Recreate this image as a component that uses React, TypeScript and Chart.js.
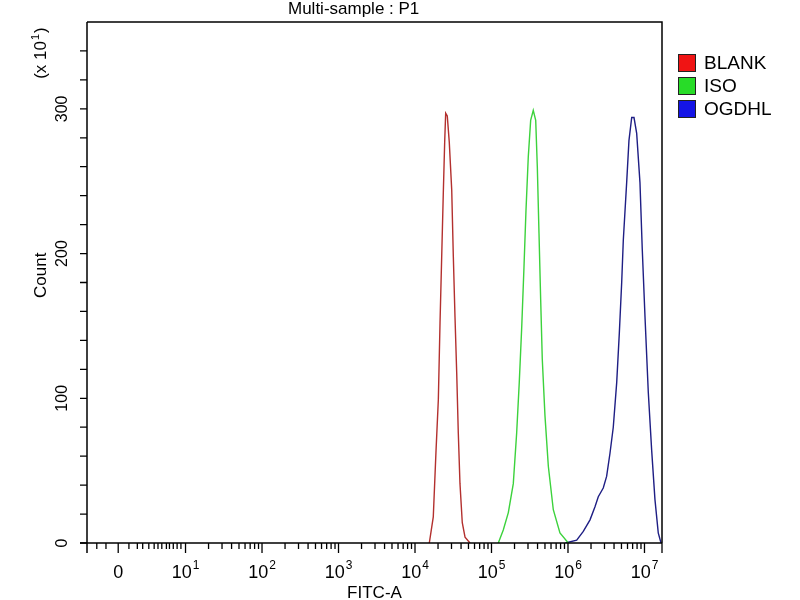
import React, { useEffect, useRef } from "react";
import { Chart, registerables } from "chart.js";

Chart.register(...registerables);

// ---- data -----------------------------------------------------------------
const chartTitle = "Multi-sample : P1";
const xAxisTitle = "FITC-A";
const yAxisTitle = "Count";
const yAxisMultiplierBase = "(x 10";
const yAxisMultiplierExp = "1";

const seriesLabels = ["BLANK", "ISO", "OGDHL"];
const lineColors = ["#b3302e", "#3cd23c", "#1e1e84"];
const legendColors = ["#f01414", "#28dc28", "#1414e6"];

// x values are positions on the log display axis (decades of FITC-A)
const blankX = [4.187, 4.239, 4.275, 4.305, 4.327, 4.349, 4.37, 4.388, 4.401, 4.422, 4.448, 4.48, 4.501, 4.523, 4.545, 4.566, 4.588, 4.618, 4.654, 4.719];
const blankCount = [0, 18, 64, 99, 152, 198, 242, 277, 297, 295, 277, 244, 198, 156, 118, 76, 41, 14, 4, 0];

const isoX = [5.089, 5.154, 5.22, 5.285, 5.329, 5.363, 5.395, 5.425, 5.451, 5.481, 5.512, 5.546, 5.578, 5.599, 5.621, 5.643, 5.664, 5.699, 5.743, 5.808, 5.895, 6.004];
const isoCount = [0, 9, 21, 41, 76, 111, 149, 191, 230, 267, 292, 299, 292, 260, 214, 168, 127, 88, 53, 23, 7, 0];

const ogdhlX = [5.967, 6.114, 6.2, 6.288, 6.353, 6.396, 6.461, 6.505, 6.549, 6.592, 6.637, 6.671, 6.702, 6.723, 6.767, 6.797, 6.833, 6.863, 6.898, 6.941, 6.971, 7.007, 7.05, 7.094, 7.137, 7.18, 7.216];
const ogdhlCount = [0, 2, 8, 16, 25, 32, 38, 46, 62, 80, 111, 145, 180, 209, 249, 278, 294, 294, 283, 249, 203, 156, 104, 64, 30, 7, 0];

const xMin = -0.288;
const xMax = 7.229;
const yMin = 0;
const yMax = 360;

const yTickValues = [0, 20, 40, 60, 80, 100, 120, 140, 160, 180, 200, 220, 240, 260, 280, 300, 320, 340];
const yTickLabels = [0, 100, 200, 300];

const xMajorPositions = [0.12, 1, 2, 3, 4, 5, 6, 7];
const xMajorBase = ["0", "10", "10", "10", "10", "10", "10", "10"];
const xMajorExp = ["", "1", "2", "3", "4", "5", "6", "7"];
const xLinearRegionMinor = [-0.16, -0.04, 0.26, 0.37, 0.44, 0.52, 0.59, 0.64, 0.69, 0.75, 0.79, 0.84, 0.89, 0.94];
const logMinorMultipliers = [2, 3, 4, 5, 6, 7, 8, 9];
const logDecades = [1, 2, 3, 4, 5, 6];

const FONT = "'Liberation Sans', Arial, sans-serif";

const toPoints = (xs: number[], ys: number[]) => xs.map((x, i) => ({ x, y: ys[i] }));

const flowAxesPlugin = {
  id: "flowAxes",
  afterDraw(chart: any) {
    const ctx: CanvasRenderingContext2D = chart.ctx;
    const { left, right, top, bottom } = chart.chartArea;
    const xs = chart.scales.x;
    const ys = chart.scales.y;
    ctx.save();
    ctx.strokeStyle = "#000";
    ctx.fillStyle = "#000";
    ctx.lineWidth = 1.5;

    // frame
    ctx.beginPath();
    ctx.moveTo(left, top);
    ctx.lineTo(right, top);
    ctx.lineTo(right, bottom);
    ctx.moveTo(left - 7, bottom);
    ctx.lineTo(right, bottom);
    ctx.moveTo(left, top);
    ctx.lineTo(left, bottom + 10);
    ctx.stroke();

    // y ticks
    ctx.lineWidth = 1.3;
    ctx.beginPath();
    yTickValues.forEach((v) => {
      const py = ys.getPixelForValue(v);
      ctx.moveTo(left - 7, py);
      ctx.lineTo(left, py);
    });
    ctx.stroke();

    // y tick labels (rotated)
    ctx.font = `16px ${FONT}`;
    ctx.textAlign = "center";
    ctx.textBaseline = "middle";
    yTickLabels.forEach((v) => {
      const py = ys.getPixelForValue(v);
      ctx.save();
      ctx.translate(63, py);
      ctx.rotate(-Math.PI / 2);
      ctx.fillText(String(v), 0, 0);
      ctx.restore();
    });

    // x ticks
    ctx.beginPath();
    const minorPositions: number[] = [...xLinearRegionMinor];
    logDecades.forEach((d) => logMinorMultipliers.forEach((m) => minorPositions.push(d + Math.log10(m))));
    minorPositions.forEach((u) => {
      const px = xs.getPixelForValue(u);
      ctx.moveTo(px, bottom);
      ctx.lineTo(px, bottom + 6);
    });
    xMajorPositions.forEach((u) => {
      const px = xs.getPixelForValue(u);
      ctx.moveTo(px, bottom);
      ctx.lineTo(px, bottom + 10);
    });
    ctx.moveTo(right, bottom);
    ctx.lineTo(right, bottom + 10);
    ctx.stroke();

    // x tick labels with superscripts
    ctx.textAlign = "left";
    ctx.textBaseline = "alphabetic";
    xMajorPositions.forEach((u, i) => {
      const px = xs.getPixelForValue(u);
      ctx.font = `18px ${FONT}`;
      const base = xMajorBase[i];
      const wb = ctx.measureText(base).width;
      ctx.font = `12px ${FONT}`;
      const we = xMajorExp[i] ? ctx.measureText(xMajorExp[i]).width + 1 : 0;
      const x0 = px - (wb + we) / 2;
      ctx.font = `18px ${FONT}`;
      ctx.fillText(base, x0, 578);
      if (xMajorExp[i]) {
        ctx.font = `12px ${FONT}`;
        ctx.fillText(xMajorExp[i], x0 + wb + 1, 569);
      }
    });

    // axis titles
    ctx.font = `17px ${FONT}`;
    ctx.textAlign = "center";
    ctx.textBaseline = "alphabetic";
    ctx.fillText(xAxisTitle, (left + right) / 2, 598);

    ctx.save();
    ctx.translate(46, ys.getPixelForValue(185));
    ctx.rotate(-Math.PI / 2);
    ctx.font = `17px ${FONT}`;
    ctx.textBaseline = "alphabetic";
    ctx.fillText(yAxisTitle, 0, 0);
    ctx.restore();

    ctx.save();
    ctx.translate(46, 53);
    ctx.rotate(-Math.PI / 2);
    ctx.font = `17px ${FONT}`;
    const wm = ctx.measureText(yAxisMultiplierBase).width;
    ctx.font = `11px ${FONT}`;
    const wx = ctx.measureText(yAxisMultiplierExp).width;
    ctx.font = `17px ${FONT}`;
    const wc = ctx.measureText(")").width;
    const total = wm + wx + 2 + wc;
    let sx = -total / 2;
    ctx.textAlign = "left";
    ctx.fillText(yAxisMultiplierBase, sx, 0);
    sx += wm + 1;
    ctx.font = `11px ${FONT}`;
    ctx.fillText(yAxisMultiplierExp, sx, -7);
    sx += wx + 1;
    ctx.font = `17px ${FONT}`;
    ctx.fillText(")", sx, 0);
    ctx.restore();

    // title
    ctx.font = `17px ${FONT}`;
    ctx.textAlign = "left";
    ctx.fillText(chartTitle, 288, 14);

    // legend
    ctx.font = `19px ${FONT}`;
    ctx.textBaseline = "middle";
    seriesLabels.forEach((label, i) => {
      const cy = 63 + i * 23;
      ctx.fillStyle = legendColors[i];
      ctx.fillRect(678, cy - 9, 18, 18);
      ctx.strokeStyle = "#222";
      ctx.lineWidth = 1;
      ctx.strokeRect(678.5, cy - 8.5, 17, 17);
      ctx.fillStyle = "#000";
      ctx.fillText(label, 704, cy + 1);
    });

    ctx.restore();
  },
};

export default function App() {
  const canvasRef = useRef<HTMLCanvasElement | null>(null);

  useEffect(() => {
    if (!canvasRef.current) return;
    const seriesX = [blankX, isoX, ogdhlX];
    const seriesY = [blankCount, isoCount, ogdhlCount];
    const chart = new Chart(canvasRef.current, {
      type: "line",
      data: {
        datasets: seriesLabels.map((label, i) => ({
          label,
          data: toPoints(seriesX[i], seriesY[i]),
          borderColor: lineColors[i],
          backgroundColor: lineColors[i],
          borderWidth: 1.4,
          pointRadius: 0,
          tension: 0,
          fill: false,
        })),
      },
      options: {
        animation: false,
        responsive: false,
        devicePixelRatio: 1,
        layout: { padding: { left: 87, top: 22, right: 138, bottom: 57 } },
        plugins: {
          legend: { display: false },
          title: { display: false },
          tooltip: { enabled: false },
        },
        scales: {
          x: { type: "linear", min: xMin, max: xMax, display: false },
          y: { type: "linear", min: yMin, max: yMax, display: false },
        },
      },
      plugins: [flowAxesPlugin],
    });
    return () => chart.destroy();
  }, []);

  return (
    <div style={{ position: "absolute", left: 0, top: 0, width: 800, height: 600, background: "#fff" }}>
      <canvas ref={canvasRef} width={800} height={600} style={{ display: "block", width: 800, height: 600 }} />
    </div>
  );
}
